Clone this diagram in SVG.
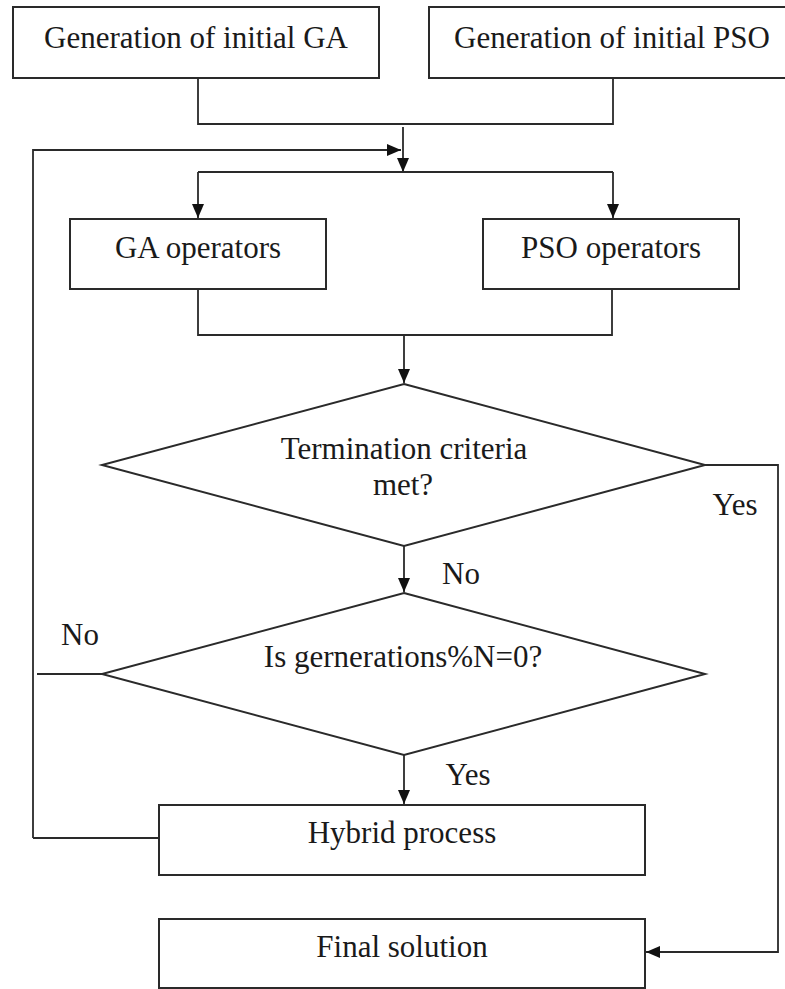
<svg xmlns="http://www.w3.org/2000/svg" width="785" height="989" viewBox="0 0 785 989">
  <style>
    .box { fill: #ffffff; stroke: #2a2a2a; stroke-width: 2; }
    .lbl { font-family: "Liberation Serif", "Times New Roman", serif; font-size: 31px; fill: #1a1a1a; text-anchor: middle; }
    .edge { fill: none; stroke: #2a2a2a; stroke-width: 1.8; }
    .arrow { marker-end: url(#head); }
  </style>
  <defs>
    <marker id="head" markerUnits="userSpaceOnUse" markerWidth="14" markerHeight="12" refX="14" refY="6" orient="auto">
      <path d="M0,0 L14,6 L0,12 Z" fill="#111111"/>
    </marker>
  </defs>
  <rect width="785" height="989" fill="#ffffff"/>

  <g id="connectors">
    <!-- merge of the two initial populations -->
    <polyline class="edge" points="198,78 198,124 613,124 613,78"/>
    <line class="edge arrow" x1="403" y1="127" x2="403" y2="172"/>
    <!-- loop-back entry -->
    <polyline class="edge arrow" points="33,838 33,150 401,150"/>
    <!-- split to operators -->
    <line class="edge" x1="198" y1="172" x2="613" y2="172"/>
    <line class="edge arrow" x1="198" y1="172" x2="198" y2="218"/>
    <line class="edge arrow" x1="613" y1="172" x2="613" y2="218"/>
    <!-- join of operators -->
    <polyline class="edge" points="198,289 198,335 612,335 612,289"/>
    <line class="edge arrow" x1="404" y1="335" x2="404" y2="383"/>
    <!-- termination check -->
    <line class="edge arrow" x1="404" y1="546" x2="404" y2="592"/>
    <polyline class="edge arrow" points="705,465 778,465 778,952 646,952"/>
    <!-- generation check -->
    <line class="edge" x1="102" y1="674" x2="37" y2="674"/>
    <line class="edge arrow" x1="404" y1="755" x2="404" y2="804"/>
    <line class="edge" x1="33" y1="838" x2="159" y2="838"/>
  </g>

  <g id="init-ga">
    <rect class="box" x="13" y="7" width="366" height="71"/>
    <text class="lbl" x="196" y="48">Generation of initial GA</text>
  </g>
  <g id="init-pso">
    <rect class="box" x="429" y="7" width="360" height="71"/>
    <text class="lbl" x="612" y="48">Generation of initial PSO</text>
  </g>
  <g id="ga-ops">
    <rect class="box" x="70" y="219" width="256" height="70"/>
    <text class="lbl" x="198" y="258">GA operators</text>
  </g>
  <g id="pso-ops">
    <rect class="box" x="483" y="219" width="256" height="70"/>
    <text class="lbl" x="611" y="258">PSO operators</text>
  </g>
  <g id="termination">
    <polygon class="box" points="404,384 705,465 404,546 102,465"/>
    <text class="lbl" x="404" y="459">Termination criteria</text>
    <text class="lbl" x="403" y="495">met?</text>
  </g>
  <g id="gen-check">
    <polygon class="box" points="404,593 705,674 404,755 102,674"/>
    <text class="lbl" x="403" y="667">Is gernerations%N=0?</text>
  </g>
  <g id="hybrid">
    <rect class="box" x="159" y="805" width="486" height="70"/>
    <text class="lbl" x="402" y="843">Hybrid process</text>
  </g>
  <g id="final">
    <rect class="box" x="159" y="919" width="486" height="69"/>
    <text class="lbl" x="402" y="957">Final solution</text>
  </g>

  <g id="edge-labels">
    <text class="lbl" x="735" y="515">Yes</text>
    <text class="lbl" x="461" y="584">No</text>
    <text class="lbl" x="80" y="645">No</text>
    <text class="lbl" x="468" y="785">Yes</text>
  </g>
</svg>
